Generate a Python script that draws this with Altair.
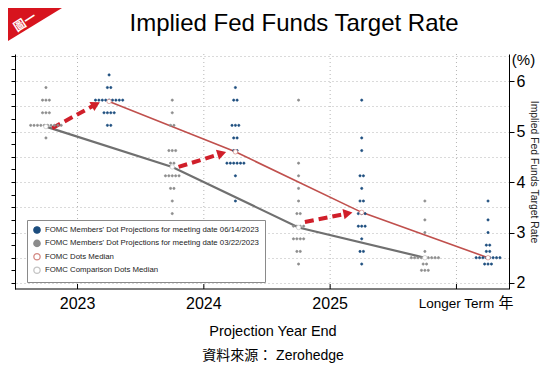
import json
import math
import altair as alt
import pandas as pd

# ---------------- data ----------------
CATEGORIES = ["2023", "2024", "2025", "Longer Term"]
UNIT_LABEL = "年"
TITLE = "Implied Fed Funds Target Rate"
Y_TITLE = "Implied Fed Funds Target Rate"
X_TITLE = "Projection Year End"
SOURCE = "資料來源： Zerohedge"
PCT = "(%)"
BADGE = "圖一"

S_JUNE = "FOMC Members' Dot Projections for meeting date 06/14/2023"
S_MARCH = "FOMC Members' Dot Projections for meeting date 03/22/2023"
S_MED = "FOMC Dots Median"
S_CMP = "FOMC Comparison Dots Median"
SERIES = [S_JUNE, S_MARCH, S_MED, S_CMP]

JUNE_RATES = [
    [6.125, 5.875, 5.625, 5.375, 5.125],
    [5.875, 5.625, 5.125, 4.875, 4.625, 4.375, 4.125, 3.625],
    [5.625, 4.875, 4.625, 4.125, 3.875, 3.625, 3.375, 3.125, 2.875, 2.625, 2.375],
    [3.625, 3.25, 3.0, 2.75, 2.625, 2.5, 2.375],
]
JUNE_COUNTS = [
    [1, 2, 9, 4, 2],
    [1, 2, 3, 2, 2, 6, 1, 1],
    [1, 1, 1, 2, 1, 2, 3, 3, 1, 2, 1],
    [1, 1, 1, 2, 2, 8, 3],
]
MARCH_RATES = [
    [5.875, 5.625, 5.375, 5.125, 4.875],
    [5.625, 5.375, 5.125, 4.625, 4.375, 4.125, 3.875, 3.625, 3.375],
    [5.625, 4.375, 4.125, 3.875, 3.625, 3.375, 3.125, 2.875, 2.625, 2.375],
    [3.625, 3.25, 3.0, 2.625, 2.5, 2.375, 2.25],
]
MARCH_COUNTS = [
    [1, 3, 3, 10, 1],
    [1, 1, 2, 3, 2, 5, 2, 1, 1],
    [1, 1, 1, 1, 1, 2, 4, 4, 2, 1],
    [1, 1, 1, 1, 9, 2, 3],
]
JUNE_MEDIAN = [5.6, 4.6, 3.4, 2.5]
MARCH_MEDIAN = [5.1, 4.3, 3.1, 2.5]
ARROW_FROM = [5.07, 4.30, 3.21]
ARROW_TO = [5.59, 4.60, 3.40]

# ---------------- layout ----------------
W, H = 494, 235
X_DOM = [-0.495, 3.416]
Y_DOM = [1.88, 6.54]
KX = W / (X_DOM[1] - X_DOM[0])
KY = H / (Y_DOM[1] - Y_DOM[0])
OFF_MARCH, OFF_JUNE = -0.25, 0.25
DOT_STEP = 3.4 / KX

SANS = "Liberation Sans, Arial, Noto Sans CJK TC, sans-serif"

FILL = ["#1c4d7e", "#8c8c8c", "#ffffff", "#ffffff"]
STROKE = ["#1c4d7e", "#8c8c8c", "#d48a84", "#c4c4c4"]
RED_LINE = "#c0504d"
GRAY_LINE = "#707070"
ARROW_RED = "#d01f2a"
GRID = "#b5b5b5"

rows = []
for series, rates_all, counts_all, off in [
    (S_MARCH, MARCH_RATES, MARCH_COUNTS, OFF_MARCH),
    (S_JUNE, JUNE_RATES, JUNE_COUNTS, OFF_JUNE),
]:
    for i, (rates, counts) in enumerate(zip(rates_all, counts_all)):
        for r, n in zip(rates, counts):
            for j in range(n):
                rows.append({"u": i + off + (j - (n - 1) / 2) * DOT_STEP,
                             "v": r, "series": series, "sz": 5})
for i, m in enumerate(JUNE_MEDIAN):
    rows.append({"u": i + OFF_JUNE, "v": m, "series": S_MED, "sz": 20})
for i, m in enumerate(MARCH_MEDIAN):
    rows.append({"u": i + OFF_MARCH, "v": m, "series": S_CMP, "sz": 20})
points = pd.DataFrame(rows)

june_line = pd.DataFrame({"u": [i + OFF_JUNE for i in range(len(CATEGORIES))], "v": JUNE_MEDIAN})
march_line = pd.DataFrame({"u": [i + OFF_MARCH for i in range(len(CATEGORIES))], "v": MARCH_MEDIAN})

arrow_rows, head_rows = [], []
for k, (a, b) in enumerate(zip(ARROW_FROM, ARROW_TO)):
    x0, x1 = k - 0.2, k + 0.18
    dxp, dyp = (x1 - x0) * KX, -(b - a) * KY
    L = math.hypot(dxp, dyp)
    ux, uy = dxp / L, dyp / L
    arrow_rows.append({"k": k, "u": x0, "v": a})
    arrow_rows.append({"k": k, "u": x1 - 8 * ux / KX, "v": b + 8 * uy / KY})
    head_rows.append({"k": k, "u": x1 - 5 * ux / KX, "v": b + 5 * uy / KY,
                      "ang": math.degrees(math.atan2(dyp, dxp)) % 360})
arrows = pd.DataFrame(arrow_rows)
heads = pd.DataFrame(head_rows)

cats = pd.DataFrame({"u": list(range(len(CATEGORIES))), "label": CATEGORIES})
one = pd.DataFrame({"k": [0]})

xscale = alt.Scale(domain=X_DOM, nice=False, zero=False)
yscale = alt.Scale(domain=Y_DOM, nice=False, zero=False)
X = alt.X("u:Q", scale=xscale, axis=None)

grid_vals = [2 + 0.5 * k for k in range(10)]
right_axis = alt.Axis(orient="right", values=grid_vals, grid=True, gridDash=[1, 3],
                      gridColor=GRID,
                      labelExpr="datum.value % 1 === 0 ? format(datum.value, 'd') : ''",
                      tickOpacity={"condition": {"test": "datum.value % 1 === 0", "value": 1}, "value": 0},
                      tickSize=5, tickColor="black", domainColor="black",
                      labelFont=SANS, labelFontSize=16, labelColor="black", labelPadding=2,
                      title=Y_TITLE, titleFont=SANS, titleFontSize=10.4,
                      titleFontWeight="normal", titleColor="#222", titlePadding=4)

left_axis = alt.Axis(orient="left", values=[2 + 0.25 * k for k in range(19)], labels=False,
                     grid=False, tickSize=4, tickColor="black", domainColor="black",
                     title=PCT, titleAngle=0, titleX=508, titleY=5, titleAlign="center",
                     titleBaseline="middle", titleFont=SANS, titleFontSize=15,
                     titleFontWeight="normal", titleColor="black")

legend = alt.Legend(title=None, orient="none", legendX=12, legendY=166, direction="vertical",
                    fillColor="white", strokeColor="#8a8a8a", padding=6, rowPadding=1.4,
                    symbolSize=40, symbolStrokeWidth=1.3, symbolType="circle",
                    labelFont=SANS, labelFontSize=7.8, labelColor="#222", labelLimit=400,
                    labelOffset=4, cornerRadius=0)

vgrid = alt.Chart(cats).mark_rule(color=GRID, strokeWidth=1, strokeDash=[1, 3]).encode(
    x=X, y=alt.value(0), y2=alt.value(H))
xdomain = alt.Chart(one).mark_rule(color="black", strokeWidth=1).encode(
    x=alt.value(0), x2=alt.value(W), y=alt.value(H))
tk = alt.Chart(cats).mark_rule(color="black", strokeWidth=1).encode(
    x=X, y=alt.value(H), y2=alt.value(H - 5))
year_labels = alt.Chart(cats).transform_filter(
    f"datum.u < {len(CATEGORIES) - 1}"
).mark_text(font=SANS, fontSize=16, color="black", baseline="middle", align="center").encode(
    x=X, y=alt.value(H + 15), text="label:N")
lt_label = alt.Chart(cats).transform_filter(
    f"datum.u == {len(CATEGORIES) - 1}"
).mark_text(font=SANS, fontSize=13.5, color="black", baseline="middle", align="center").encode(
    x=X, y=alt.value(H + 15), text="label:N")

pts = alt.Chart(points).mark_point(strokeWidth=0.7, opacity=1, fillOpacity=1).encode(
    x=X,
    y=alt.Y("v:Q", scale=yscale, axis=right_axis),
    fill=alt.Fill("series:N", scale=alt.Scale(domain=SERIES, range=FILL), legend=legend),
    stroke=alt.Stroke("series:N", scale=alt.Scale(domain=SERIES, range=STROKE), legend=legend),
    size=alt.Size("sz:Q", scale=None),
)

red = alt.Chart(june_line).mark_line(color=RED_LINE, strokeWidth=1.6).encode(
    x=X, y=alt.Y("v:Q", scale=yscale, axis=left_axis))
gray = alt.Chart(march_line).mark_line(color=GRAY_LINE, strokeWidth=2.2).encode(
    x=X, y=alt.Y("v:Q", scale=yscale, axis=None))
arr = alt.Chart(arrows).mark_line(color=ARROW_RED, strokeWidth=4, strokeDash=[9, 5]).encode(
    x=X, y=alt.Y("v:Q", scale=yscale, axis=None), detail="k:N")
hd = alt.Chart(heads).mark_point(shape="triangle-right", filled=True, color=ARROW_RED,
                                 size=110, opacity=1).encode(
    x=X, y=alt.Y("v:Q", scale=yscale, axis=None), angle=alt.Angle("ang:Q", scale=None))

unit = alt.Chart(one).mark_text(text=UNIT_LABEL, font=SANS, fontSize=15, color="black",
                                baseline="middle").encode(x=alt.value(491), y=alt.value(H + 14))
xtitle = alt.Chart(one).mark_text(text=X_TITLE, font=SANS, fontSize=14.5, color="black",
                                  baseline="alphabetic", align="center").encode(
    x=alt.value(258), y=alt.value(H + 47))
source = alt.Chart(one).mark_text(text=SOURCE, font=SANS, fontSize=14, color="black",
                                  baseline="alphabetic", align="center").encode(
    x=alt.value(258), y=alt.value(H + 71))
badge = alt.Chart(one).mark_point(shape="M-1,-1L1,-1L-1,0.222Z", filled=True, color="#d7141e",
                                  size=2916, opacity=1, strokeWidth=0).encode(
    x=alt.value(20), y=alt.value(-19))
badge_txt = alt.Chart(one).mark_text(text=BADGE, angle=327, color="white", fontSize=12,
                                     fontWeight="bold", font="Noto Sans CJK TC").encode(
    x=alt.value(10), y=alt.value(-32))
title_txt = alt.Chart(one).mark_text(text=TITLE, font=SANS, fontSize=24, color="black",
                                     baseline="alphabetic", align="center").encode(
    x=alt.value(W / 2 + 32), y=alt.value(-23))

chart = alt.layer(vgrid, xdomain, tk, gray, red, arr, hd, pts, year_labels, lt_label, unit,
                  xtitle, source, badge, badge_txt, title_txt).resolve_axis(
    y="independent").properties(
    width=W, height=H,
    autosize=alt.AutoSizeParams(type="none"),
    padding={"left": 7, "top": 46, "right": 33, "bottom": 74},
).configure_view(stroke=None)

chart.save("out.html", embed_options={"renderer": "svg", "actions": False})
